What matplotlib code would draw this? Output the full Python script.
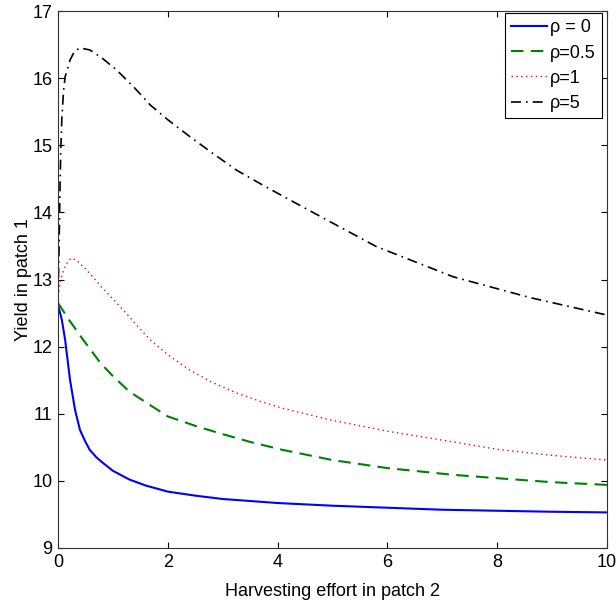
import matplotlib
matplotlib.use("Agg")
import matplotlib.pyplot as plt

plt.rcParams['font.family'] = ['Liberation Sans', 'DejaVu Sans']

# rho = 0
x0 = [0, 0.07, 0.13, 0.22, 0.31, 0.4, 0.5, 0.58, 0.7, 0.83, 1.0, 1.3, 1.6, 2.0, 2.5, 3.0,
      4.0, 5.0, 6.0, 7.0, 8.0, 9.0, 10.0]
y0 = [12.62, 12.4, 12.1, 11.5, 11.06, 10.76, 10.58, 10.46, 10.35, 10.26, 10.15, 10.02, 9.93,
      9.84, 9.78, 9.73, 9.67, 9.63, 9.60, 9.57, 9.555, 9.54, 9.53]
# rho = 0.5
x05 = [0, 0.2, 0.46, 0.77, 1.0, 1.3, 1.6, 2.0, 2.5, 2.9, 3.5, 4.1, 5.0, 6.0, 7.2, 8.0, 9.0, 10.0]
y05 = [12.65, 12.4, 12.1, 11.76, 11.56, 11.33, 11.17, 10.96, 10.82, 10.72, 10.58, 10.46, 10.31,
       10.19, 10.09, 10.04, 9.98, 9.94]
# rho = 1
x1 = [0, 0.05, 0.1, 0.18, 0.25, 0.35, 0.45, 0.58, 0.8, 1.07, 1.25, 1.4, 1.68, 2.0, 2.4, 2.8,
      3.25, 3.7, 4.1, 4.95, 6.0, 7.2, 8.0, 9.0, 10.0]
y1 = [12.75, 13.0, 13.14, 13.27, 13.32, 13.28, 13.2, 13.09, 12.88, 12.65, 12.49, 12.35, 12.10,
      11.88, 11.65, 11.47, 11.31, 11.18, 11.08, 10.91, 10.74, 10.58, 10.47, 10.38, 10.31]
# rho = 5
x5 = [0, 0.02, 0.035, 0.05, 0.07, 0.1, 0.13, 0.22, 0.3, 0.4, 0.58, 0.8, 1.07, 1.4, 1.68, 2.0,
      2.4, 2.8, 3.25, 3.7, 4.1, 4.89, 5.8, 7.2, 8.6, 10.0]
y5 = [12.7, 13.5, 14.3, 14.9, 15.4, 15.8, 16.02, 16.27, 16.4, 16.45, 16.42, 16.3, 16.12, 15.85,
      15.60, 15.38, 15.13, 14.89, 14.63, 14.42, 14.24, 13.89, 13.49, 13.04, 12.73, 12.47]

fig = plt.figure(figsize=(6.16, 6.05), dpi=100)
ax = fig.add_axes([58/616, 57/605, 549/616, 537/605])

ax.plot(x0, y0, color=(0, 0, 1), lw=1.5, ls='-', label='ρ = 0')
ax.plot(x05, y05, color=(0, 0.5, 0), lw=1.5, ls=(0, (6, 3.5)), label='ρ=0.5')
ax.plot(x1, y1, color=(1, 0, 0), lw=1.0, ls=(0, (1, 2.5)), label='ρ=1')
ax.plot(x5, y5, color='black', lw=1.2, ls=(0, (6, 3, 1, 3)), label='ρ=5')

ax.set_xlim(0, 10)
ax.set_ylim(9, 17)
ax.set_xticks([0, 2, 4, 6, 8, 10])
ax.set_yticks([9, 10, 11, 12, 13, 14, 15, 16, 17])
ax.tick_params(direction='in', length=4, width=0.8, top=True, right=True,
               labelsize=13, pad=4)
for s in ax.spines.values():
    s.set_linewidth(0.8)
    s.set_color('#333333')

ax.set_xlabel('Harvesting effort in patch 2', fontsize=13, labelpad=9)
ax.set_ylabel('Yield in patch 1', fontsize=13, labelpad=0)

leg = ax.legend(loc='upper right', bbox_to_anchor=(0.991, 0.996), borderaxespad=0,
                fontsize=13, handlelength=2.0, handletextpad=0.15, labelspacing=0.45,
                fancybox=False, framealpha=1, borderpad=0.35)
leg.get_frame().set_edgecolor('black')
leg.get_frame().set_linewidth(0.8)

fig.savefig('out.png', dpi=100)
